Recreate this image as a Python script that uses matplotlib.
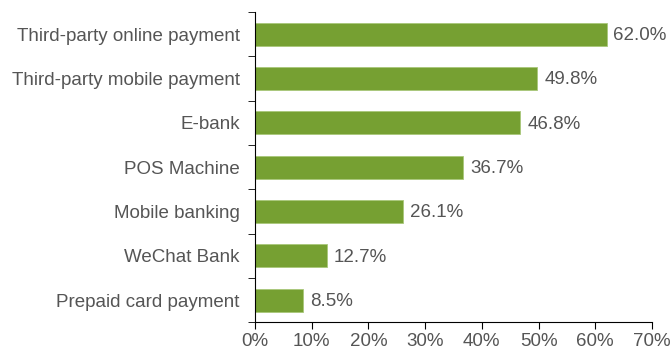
import matplotlib.pyplot as plt
from matplotlib.ticker import FixedLocator

categories = ["Third-party online payment", "Third-party mobile payment", "E-bank",
              "POS Machine", "Mobile banking", "WeChat Bank", "Prepaid card payment"]
values = [62.0, 49.8, 46.8, 36.7, 26.1, 12.7, 8.5]
x_ticks = [0, 10, 20, 30, 40, 50, 60, 70]

plt.rcParams['font.family'] = ['Liberation Sans', 'DejaVu Sans']
text_color = '#555555'
fs = 13.5

fig = plt.figure(figsize=(6.71, 3.55), dpi=100)
ax = fig.add_axes([0.380, 0.092, 0.5917, 0.874])

n = len(categories)
ypos = list(range(n))[::-1]
ax.barh(ypos, values, height=0.52, color='#76a032', edgecolor='#a9c77a', linewidth=0.6)

for y, v in zip(ypos, values):
    ax.text(v + 1.2, y - 0.03, f"{v:.1f}%", va='center', ha='left', fontsize=fs, color=text_color)

ax.set_xlim(0, 70)
ax.set_ylim(-0.5, n - 0.5)
ax.set_xticks(x_ticks)
ax.set_xticklabels([f"{t}%" for t in x_ticks], fontsize=fs, color=text_color)

ax.set_yticks(ypos)
ax.set_yticklabels(categories, fontsize=fs, color=text_color)
ax.tick_params(axis='y', length=0, pad=11)
ax.yaxis.set_minor_locator(FixedLocator([i - 0.5 for i in range(n + 1)]))
ax.tick_params(axis='y', which='minor', length=5, color='black')
ax.tick_params(axis='x', length=5, color='black', pad=3)

ax.spines['top'].set_visible(False)
ax.spines['right'].set_visible(False)
ax.spines['left'].set_color('black')
ax.spines['bottom'].set_color('black')

fig.savefig('out.png', dpi=100)
